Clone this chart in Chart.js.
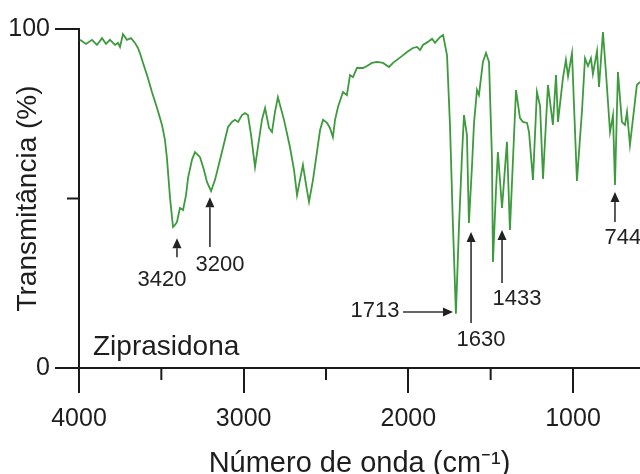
<!DOCTYPE html>
<html>
<head>
<meta charset="utf-8">
<script src="https://cdn.jsdelivr.net/npm/chart.js@4.4.1/dist/chart.umd.min.js"></script>
<style>
  html, body { margin: 0; padding: 0; background: #fff; overflow: hidden; }
  canvas { display: block; }
</style>
</head>
<body>
<canvas id="ir" width="640" height="474"></canvas>
<script>
// espectro IV (número de onda em cm-1, transmitância em %)
const wavenumbers = [
  3994, 3957, 3921, 3891, 3860, 3836, 3812, 3781, 3763, 3751, 3733, 3709, 3684, 3660, 3642, 3630,
  3611, 3587, 3557, 3526, 3496, 3478, 3466, 3447, 3429, 3417, 3405, 3387, 3368, 3350, 3338, 3314,
  3296, 3265, 3241, 3223, 3198, 3174, 3156, 3126, 3095, 3071, 3053, 3034, 3010, 2992, 2974, 2955,
  2931, 2907, 2889, 2870, 2846, 2828, 2810, 2792, 2755, 2719, 2694, 2676, 2658, 2640, 2621, 2603,
  2579, 2555, 2536, 2518, 2494, 2476, 2458, 2445, 2427, 2397, 2373, 2354, 2336, 2312, 2275, 2251,
  2221, 2190, 2154, 2117, 2093, 2069, 2039, 2008, 1972, 1947, 1929, 1911, 1881, 1856, 1838, 1808,
  1789, 1765, 1747, 1729, 1711, 1692, 1674, 1662, 1644, 1632, 1613, 1601, 1583, 1571, 1547, 1528,
  1510, 1492, 1486, 1468, 1456, 1431, 1401, 1383, 1346, 1322, 1304, 1279, 1267, 1243, 1219, 1200,
  1182, 1152, 1122, 1103, 1091, 1061, 1043, 1030, 1006, 976, 945, 927, 909, 891, 879, 854,
  842, 818, 800, 775, 757, 745, 727, 703, 684, 672, 654, 612, 593
];
const transmittance = [
  96.8, 95.6, 96.8, 95.3, 97.3, 95.6, 96.8, 95.3, 95.9, 94.7, 98.5, 96.8, 97.3, 95.9, 94.4, 92.9,
  90.0, 86.4, 81.4, 76.7, 71.7, 67.3, 61.9, 50.1, 41.6, 42.2, 43.1, 47.2, 46.6, 51.0, 56.0, 61.4,
  63.7, 62.2, 58.4, 54.9, 52.2, 55.5, 59.0, 64.9, 71.1, 72.6, 73.2, 72.6, 74.6, 75.2, 74.6, 68.7,
  59.3, 67.3, 73.2, 76.7, 70.8, 69.6, 75.5, 79.9, 73.2, 65.2, 58.4, 51.0, 55.5, 59.9, 54.0, 49.0,
  55.5, 63.7, 70.2, 73.2, 72.3, 70.8, 68.1, 73.2, 77.0, 81.4, 80.5, 86.4, 85.8, 88.5, 88.5, 89.1,
  90.0, 90.3, 90.0, 88.8, 90.0, 90.9, 92.0, 93.2, 94.4, 94.7, 93.8, 95.3, 96.2, 97.1, 95.9, 97.6,
  98.2, 92.3, 71.7, 42.2, 16.0, 42.2, 62.8, 74.6, 68.7, 42.8, 59.9, 72.3, 82.0, 80.5, 90.3, 92.9,
  90.3, 61.9, 31.3, 51.9, 63.7, 47.2, 66.7, 40.7, 82.0, 73.7, 72.6, 72.3, 69.6, 55.5, 81.4, 77.3,
  55.8, 83.5, 71.7, 86.4, 72.6, 85.5, 90.9, 86.1, 92.9, 55.2, 76.1, 91.4, 89.1, 91.4, 86.7, 93.5,
  82.9, 99.1, 87.3, 69.6, 74.6, 54.0, 87.3, 72.6, 71.7, 75.5, 65.8, 83.5, 84.4
];

const xTicks = [4000, 3000, 2000, 1000];
const xMinorTicks = [3500, 2500, 1500];
const yTicks = [0, 100];
const yMinorTicks = [50];

// picos marcados: texto, início e ponta da seta, centro do texto (em unidades dos eixos)
const peakLabels = ['3420', '3200', '1713', '1630', '1433', '744'];
const peakArrowFrom = [[3405, 32.7], [3205, 35.7], [2032, 16.5], [1619, 13.3], [1431, 25.1], [745, 43.1]];
const peakArrowTo = [[3405, 38.3], [3205, 50.4], [1729, 16.5], [1619, 40.1], [1431, 40.7], [745, 51.9]];
const peakLabelAt = [[3496, 26.0], [3144, 30.4], [2203, 16.8], [1559, 8.3], [1340, 20.4], [697, 38.3]];

const sampleName = 'Ziprasidona';

const FONT = '"Liberation Sans", Arial, Helvetica, sans-serif';
const INK = '#1e1e1e';

function drawArrow(ctx, x0, y0, x1, y1) {
  const ang = Math.atan2(y1 - y0, x1 - x0);
  const head = 10;
  const half = 4.5;
  const bx = x1 - head * Math.cos(ang);
  const by = y1 - head * Math.sin(ang);
  ctx.beginPath();
  ctx.moveTo(x0, y0);
  ctx.lineTo(bx, by);
  ctx.stroke();
  ctx.beginPath();
  ctx.moveTo(x1, y1);
  ctx.lineTo(bx + half * Math.sin(ang), by - half * Math.cos(ang));
  ctx.lineTo(bx - half * Math.sin(ang), by + half * Math.cos(ang));
  ctx.closePath();
  ctx.fill();
}

const spectrumDecor = {
  id: 'spectrumDecor',
  afterDraw(chart) {
    const {ctx, chartArea, scales: {x, y}} = chart;
    ctx.save();

    // ticks menores
    ctx.strokeStyle = '#1a1a1a';
    ctx.lineWidth = 2;
    const bottom = y.getPixelForValue(0);
    xMinorTicks.forEach((v) => {
      const px = x.getPixelForValue(v);
      ctx.beginPath();
      ctx.moveTo(px, bottom);
      ctx.lineTo(px, bottom + 12);
      ctx.stroke();
    });
    yMinorTicks.forEach((v) => {
      const py = y.getPixelForValue(v);
      ctx.beginPath();
      ctx.moveTo(chartArea.left, py);
      ctx.lineTo(chartArea.left - 12, py);
      ctx.stroke();
    });

    // setas e números dos picos
    ctx.strokeStyle = '#333';
    ctx.fillStyle = '#222';
    ctx.lineWidth = 1.6;
    peakLabels.forEach((txt, i) => {
      drawArrow(ctx,
        x.getPixelForValue(peakArrowFrom[i][0]), y.getPixelForValue(peakArrowFrom[i][1]),
        x.getPixelForValue(peakArrowTo[i][0]), y.getPixelForValue(peakArrowTo[i][1]));
    });
    ctx.font = '22px ' + FONT;
    ctx.textAlign = 'center';
    ctx.textBaseline = 'middle';
    peakLabels.forEach((txt, i) => {
      ctx.fillText(txt, x.getPixelForValue(peakLabelAt[i][0]), y.getPixelForValue(peakLabelAt[i][1]));
    });

    // nome da amostra
    ctx.font = '28px ' + FONT;
    ctx.textAlign = 'left';
    ctx.textBaseline = 'alphabetic';
    ctx.fillStyle = INK;
    ctx.fillText(sampleName, chartArea.left + 14, chartArea.bottom - 13);

    ctx.restore();
  }
};

new Chart(document.getElementById('ir'), {
  type: 'line',
  data: {
    datasets: [{
      data: wavenumbers.map((w, i) => ({x: w, y: transmittance[i]})),
      borderColor: '#3d9a3d',
      borderWidth: 1.8,
      pointRadius: 0,
      tension: 0,
      fill: false
    }]
  },
  options: {
    responsive: false,
    animation: false,
    layout: {padding: {top: 29, right: 0, left: 0, bottom: 0}},
    plugins: {legend: {display: false}, tooltip: {enabled: false}},
    scales: {
      x: {
        type: 'linear',
        reverse: true,
        min: 593,
        max: 4000,
        afterBuildTicks: (s) => { s.ticks = xTicks.map((v) => ({value: v})); },
        afterFit: (s) => { s.height = 106; s.paddingLeft = 0; s.paddingRight = 0; },
        ticks: {
          color: INK,
          font: {family: FONT, size: 25},
          padding: 11,
          maxRotation: 0,
          autoSkip: false,
          callback: (v) => String(v)
        },
        grid: {drawOnChartArea: false, tickLength: 25, color: '#1a1a1a', lineWidth: 2},
        border: {display: true, color: '#1a1a1a', width: 2},
        title: {
          display: true,
          text: 'Número de onda (cm⁻¹)',
          color: INK,
          font: {family: FONT, size: 29, lineHeight: 1},
          padding: {top: 0, bottom: -4}
        }
      },
      y: {
        min: 0,
        max: 100,
        afterBuildTicks: (s) => { s.ticks = yTicks.map((v) => ({value: v})); },
        afterFit: (s) => { s.width = 79; s.paddingTop = 0; s.paddingBottom = 0; },
        ticks: {
          color: INK,
          font: {family: FONT, size: 25},
          padding: 5,
          callback: (v) => String(v)
        },
        grid: {drawOnChartArea: false, tickLength: 24, color: '#1a1a1a', lineWidth: 2},
        border: {display: true, color: '#1a1a1a', width: 2},
        title: {
          display: true,
          text: 'Transmitância (%)',
          color: INK,
          font: {family: FONT, size: 28, lineHeight: 1},
          padding: {top: 14, bottom: 0}
        }
      }
    }
  },
  plugins: [spectrumDecor]
});
</script>
</body>
</html>
